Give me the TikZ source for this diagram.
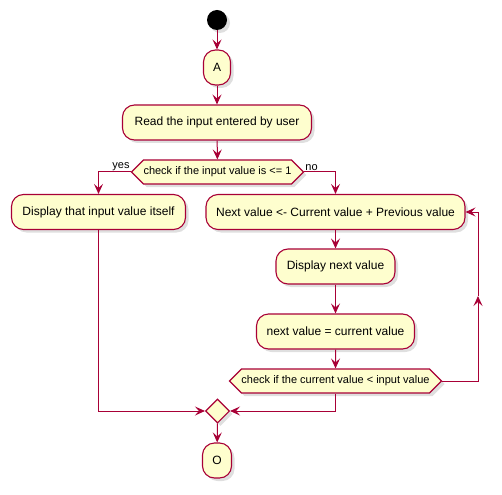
\documentclass[tikz,border=0pt]{standalone}
\usepackage{fontspec}
\setmainfont{Liberation Sans}
\usetikzlibrary{positioning,arrows.meta,shapes.symbols,shapes.geometric,shadows}
\definecolor{umlred}{RGB}{168,0,54}
\definecolor{umlfill}{RGB}{254,254,206}
\newcommand{\actfont}{\fontsize{12}{14}\selectfont}
\newcommand{\condfont}{\fontsize{11}{13}\selectfont}
\tikzset{
  umlshadow/.style={drop shadow={shadow xshift=3pt,shadow yshift=-3pt,opacity=0.25}},
  act/.style={rectangle,rounded corners=12pt,draw=umlred,fill=umlfill,line width=1.1pt,
    minimum height=35pt,inner xsep=0pt,font=\actfont,umlshadow},
  cond/.style={signal,signal to=east and west,signal pointer angle=90,draw=umlred,fill=umlfill,
    line width=1.1pt,minimum height=24pt,inner xsep=0pt,inner ysep=0pt,font=\condfont,umlshadow},
  mergebox/.style={diamond,draw=umlred,fill=umlfill,line width=1.1pt,minimum width=24pt,
    minimum height=24pt,inner sep=0pt,umlshadow},
  flow/.style={draw=umlred,line width=1pt,-{Stealth[length=10pt,width=9pt,inset=4pt]}},
  lbl/.style={font=\condfont,inner sep=1pt}
}
\begin{document}
\begin{tikzpicture}[x=1pt,y=1pt]
        \useasboundingbox (0,0) rectangle (502,-494);
        \node[circle,fill=black,minimum size=20pt,inner sep=0pt,umlshadow] (start) at (217,-20) {};
        \node[act,minimum width=27pt] (a) at (217,-67.5) {A};
        \node[act,minimum width=189pt] (read) at (217,-122.5) {Read the input entered by user};
        \node[cond,minimum width=169pt] (chk1) at (217.5,-172) {check if the input value is <= 1};
        \node[act,minimum width=174pt] (disp) at (98.5,-212) {Display that input value itself};
        \node[act,minimum width=259pt] (next) at (335.5,-212) {Next value <- Current value + Previous value};
        \node[act,minimum width=119pt] (shownext) at (335.5,-266.5) {Display next value};
        \node[act,minimum width=158pt] (assign) at (335.5,-331.5) {next value = current value};
        \node[cond,minimum width=211pt] (chk2) at (335.5,-381) {check if the current value < input value};
        \node[mergebox] (merge) at (217.5,-411) {};
        \node[act,minimum width=29pt] (stop) at (217,-460.5) {O};
        \coordinate (loop) at (478,-296);
        % connectors
        \draw[flow] (start) -- (a);
        \draw[flow] (a) -- (read);
        \draw[flow] (read) -- (chk1);
        \draw[flow] (chk1.west) -| (disp.north);
        \draw[flow] (chk1.east) -| (next.north);
        \node[lbl,anchor=south east] at (chk1.west) {yes};
        \node[lbl,anchor=south west] at (chk1.east) {no};
        \draw[flow] (next) -- (shownext);
        \draw[flow] (shownext) -- (assign);
        \draw[flow] (assign) -- (chk2);
        \draw[flow] (chk2.east) -| (loop);
        \draw[flow] (loop) |- (next.east);
        \draw[flow] (chk2.south) |- (merge.east);
        \draw[flow] (disp.south) |- (merge.west);
        \draw[flow] (merge) -- (stop);
      \end{tikzpicture}
\end{document}
